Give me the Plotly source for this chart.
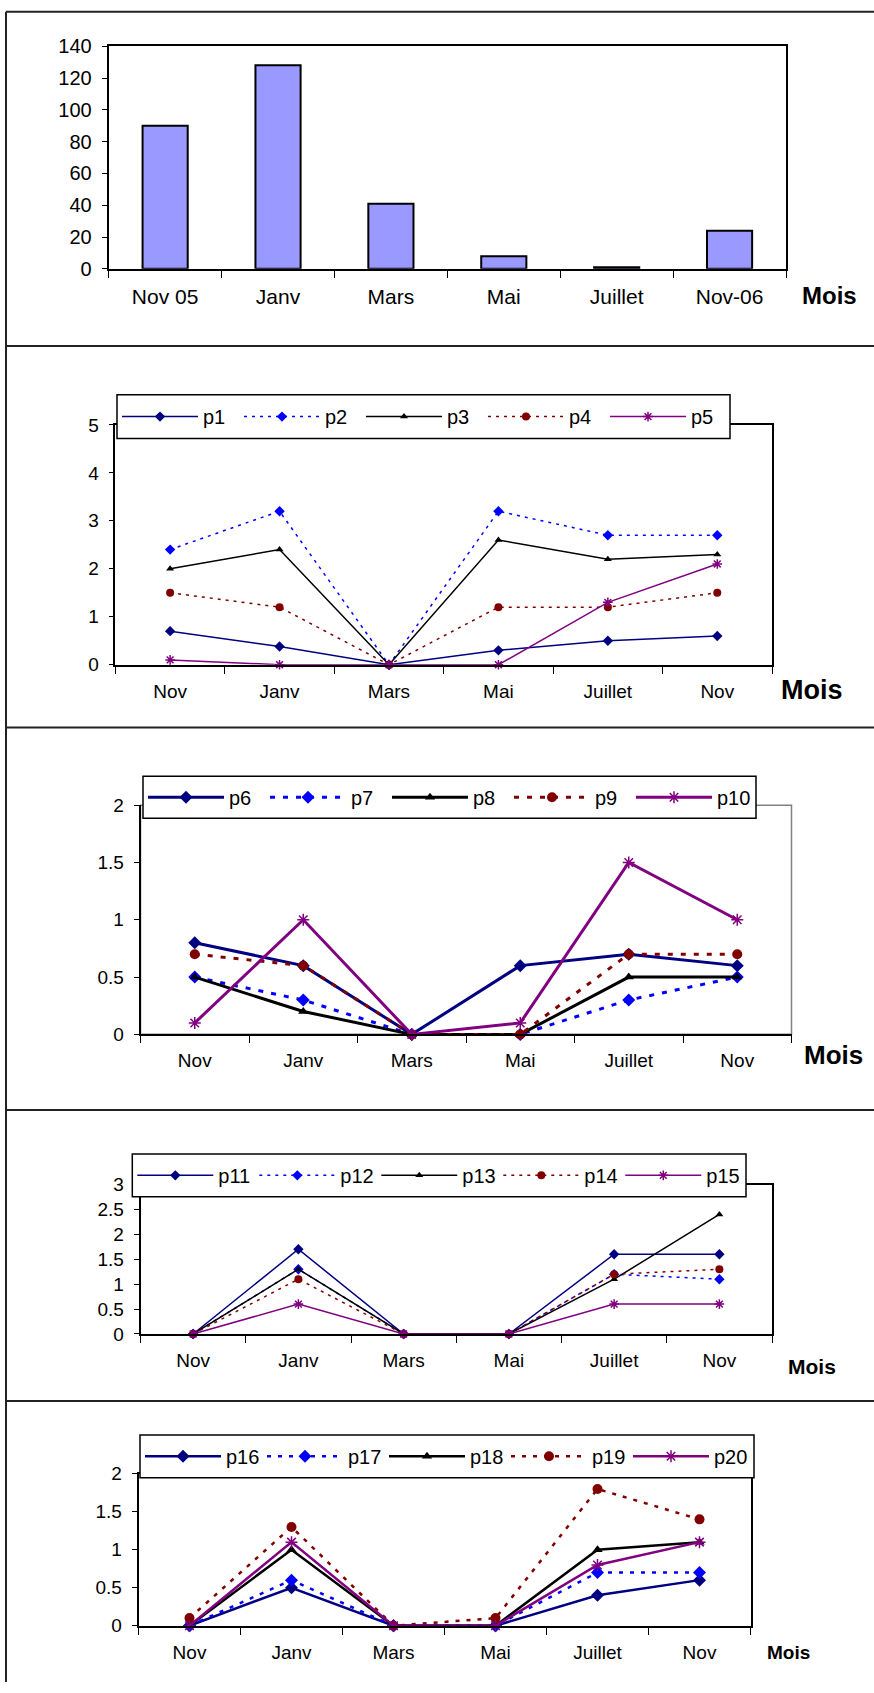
import plotly.graph_objects as go

W, H = 874, 1693
FONT = "Liberation Sans, Arial, sans-serif"

# ---- data ----
months_bar = ["Nov 05", "Janv", "Mars", "Mai", "Juillet", "Nov-06"]
counts = [90, 128, 41, 8, 1, 24]

months = ["Nov", "Janv", "Mars", "Mai", "Juillet", "Nov"]

p1 = [0.7, 0.38, 0, 0.3, 0.5, 0.6]
p2 = [2.4, 3.2, 0, 3.2, 2.7, 2.7]
p3 = [2.0, 2.4, 0, 2.6, 2.2, 2.3]
p4 = [1.5, 1.2, 0, 1.2, 1.2, 1.5]
p5 = [0.1, 0, 0, 0, 1.3, 2.1]

p6 = [0.8, 0.6, 0, 0.6, 0.7, 0.6]
p7 = [0.5, 0.3, 0, 0, 0.3, 0.5]
p8 = [0.5, 0.2, 0, 0, 0.5, 0.5]
p9 = [0.7, 0.6, 0, 0, 0.7, 0.7]
p10 = [0.1, 1.0, 0, 0.1, 1.5, 1.0]

p11 = [0, 1.7, 0, 0, 1.6, 1.6]
p12 = [0, 1.3, 0, 0, 1.2, 1.1]
p13 = [0, 1.3, 0, 0, 1.1, 2.4]
p14 = [0, 1.1, 0, 0, 1.2, 1.3]
p15 = [0, 0.6, 0, 0, 0.6, 0.6]

p16 = [0, 0.5, 0, 0, 0.4, 0.6]
p17 = [0, 0.6, 0, 0, 0.7, 0.7]
p18 = [0, 1.0, 0, 0, 1.0, 1.1]
p19 = [0.1, 1.3, 0, 0.1, 1.8, 1.4]
p20 = [0, 1.1, 0, 0, 0.8, 1.1]

groups = [
    (["p1", "p2", "p3", "p4", "p5"], [p1, p2, p3, p4, p5]),
    (["p6", "p7", "p8", "p9", "p10"], [p6, p7, p8, p9, p10]),
    (["p11", "p12", "p13", "p14", "p15"], [p11, p12, p13, p14, p15]),
    (["p16", "p17", "p18", "p19", "p20"], [p16, p17, p18, p19, p20]),
]

# ---- styling per series slot ----
NAVY, BLUE, BLACK, DRED, PURPLE = "#000080", "#0000FF", "#000000", "#800000", "#800080"
slot_color = [NAVY, BLUE, BLACK, DRED, PURPLE]
slot_symbol = ["diamond", "diamond", "triangle-up", "circle", "asterisk-open"]
slot_dotted = [False, True, False, True, False]

# vertical page placement: the page shows the figure slightly shifted/compressed,
# so vertical positions are pre-adjusted
Y_SCALE, Y_OFF = 0.9906, 7.9


def px_x(v):
    return v / W


def px_y(v):
    v = (v - Y_OFF) / Y_SCALE
    return 1 - v / H


# panel geometry (pixels): plot-area left/right/top/bottom
panels = [
    dict(l=108.7, r=786.0, t=43.3, b=266.7, ymax=140, dtick=20, tickfont=20, xfont=21,
         mois=(829.5, 293, 24)),
    dict(l=115.4, r=772.0, t=423.3, b=664.0, ymax=5, dtick=1, tickfont=19, xfont=19,
         mois=(811.7, 689, 27), lw=1.5, ms=8, dash="3px,5px",
         leg=(117, 730, 393, 437)),
    dict(l=140.5, r=791.5, t=805.0, b=1035.0, ymax=2, dtick=0.5, tickfont=19, xfont=19,
         mois=(833, 1056, 26), lw=3, ms=10, dash="5px,8px",
         leg=(143, 756, 776, 818)),
    dict(l=140.5, r=772.0, t=1185.7, b=1335.7, ymax=3, dtick=0.5, tickfont=19, xfont=19,
         mois=(812, 1368, 21), lw=1.5, ms=8, dash="3px,5px",
         leg=(132.3, 746, 1155, 1198)),
    dict(l=138.5, r=750.5, t=1476.0, b=1628.5, ymax=2, dtick=0.5, tickfont=19, xfont=19,
         mois=(788, 1655, 19), lw=2.5, ms=10, dash="4px,7px",
         leg=(140, 754, 1437, 1480)),
]

fig = go.Figure()
layout = dict(
    width=W, height=H, margin=dict(l=0, r=0, t=0, b=0),
    paper_bgcolor="white", plot_bgcolor="white",
    font=dict(family=FONT, color="black"),
    showlegend=True,
)
annotations = []
shapes = []

for i, pn in enumerate(panels):
    n = i + 1
    xa = "xaxis" if n == 1 else f"xaxis{n}"
    ya = "yaxis" if n == 1 else f"yaxis{n}"
    xref = "x" if n == 1 else f"x{n}"
    yref = "y" if n == 1 else f"y{n}"
    labels = months_bar if n == 1 else months
    layout[xa] = dict(
        domain=[px_x(pn["l"]), px_x(pn["r"])], anchor=yref,
        range=[-0.5, 5.5], tickmode="array", tickvals=list(range(6)), ticktext=labels,
        ticks="", showgrid=False, zeroline=False,
        showline=True, linecolor="black", linewidth=2, mirror=(n != 3),
        tickfont=dict(size=pn["xfont"], family=FONT),
        ticklabelstandoff=8,
        minor=dict(tickmode="linear", tick0=-0.5, dtick=1, ticks="outside",
                   ticklen=7, tickwidth=1, tickcolor="black", showgrid=False),
        fixedrange=True,
    )
    layout[ya] = dict(
        domain=[px_y(pn["b"]), px_y(pn["t"])], anchor=xref,
        range=[0, pn["ymax"]], tickmode="linear", tick0=0, dtick=pn["dtick"],
        ticks="outside", ticklen=5, tickwidth=1, tickcolor="black",
        showgrid=False, zeroline=False,
        showline=True, linecolor="black", linewidth=1.5 if n != 1 else 2, mirror=(n != 3),
        tickfont=dict(size=pn["tickfont"], family=FONT),
        ticklabelstandoff=6,
        fixedrange=True,
    )
    mx, my, ms_ = pn["mois"]
    annotations.append(dict(
        text="<b>Mois</b>", x=px_x(mx), y=px_y(my), xref="paper", yref="paper",
        xanchor="center", yanchor="middle", showarrow=False,
        font=dict(size=ms_, family=FONT, color="black")))

    if n == 3:
        # grey frame around plot area
        shapes.append(dict(type="rect", xref="paper", yref="paper",
                           x0=px_x(pn["l"]), x1=px_x(pn["r"]),
                           y0=px_y(pn["b"]), y1=px_y(pn["t"]),
                           line=dict(color="#808080", width=1.5), layer="below"))

# bar chart
fig.add_trace(go.Bar(
    x=list(range(6)), y=counts, xaxis="x", yaxis="y",
    marker=dict(color="#9999FF", line=dict(color="black", width=2)),
    width=0.4, showlegend=False, hoverinfo="skip",
))

# line charts
for gi, (names, series) in enumerate(groups):
    n = gi + 2
    pn = panels[gi + 1]
    legname = "legend" if gi == 0 else f"legend{gi + 1}"
    for si, (nm, vals) in enumerate(zip(names, series)):
        col = slot_color[si]
        sym = slot_symbol[si]
        mk = dict(symbol=sym, size=pn["ms"] if sym != "triangle-up" else pn["ms"] - 1,
                  color=col, line=dict(color=col, width=1.5 if sym == "asterisk-open" else 0))
        fig.add_trace(go.Scatter(
            x=list(range(6)), y=vals, name=nm, mode="lines+markers",
            xaxis=f"x{n}", yaxis=f"y{n}", legend=legname,
            line=dict(color=col, width=pn["lw"],
                      dash=pn["dash"] if slot_dotted[si] else "solid"),
            marker=mk, cliponaxis=False,
        ))
    lx0, lx1, ly0, ly1 = pn["leg"]
    # legend box drawn over the plot frame
    shapes.append(dict(type="rect", xref="paper", yref="paper",
                       x0=px_x(lx0), x1=px_x(lx1), y0=px_y(ly1), y1=px_y(ly0),
                       fillcolor="white", line=dict(color="black", width=1.5),
                       layer="above"))
    layout[legname] = dict(
        x=px_x(lx0), y=px_y((ly0 + ly1) / 2), xanchor="left", yanchor="middle",
        xref="paper", yref="paper",
        orientation="h", bgcolor="rgba(0,0,0,0)", borderwidth=0,
        font=dict(size=20, family=FONT, color="black"),
        entrywidth=31, entrywidthmode="pixels", itemwidth=76,
        traceorder="normal",
    )

# panel separators
for yy in [8.6, 344, 727, 1111, 1403]:
    shapes.append(dict(type="line", xref="paper", yref="paper",
                       x0=px_x(6), x1=1, y0=px_y(yy), y1=px_y(yy),
                       line=dict(color="#222222", width=2)))
shapes.append(dict(type="line", xref="paper", yref="paper",
                   x0=px_x(6), x1=px_x(6), y0=px_y(8.6), y1=0,
                   line=dict(color="#222222", width=2)))

layout["annotations"] = annotations
layout["shapes"] = shapes
fig.update_layout(**layout)
fig.write_html("out.html")
